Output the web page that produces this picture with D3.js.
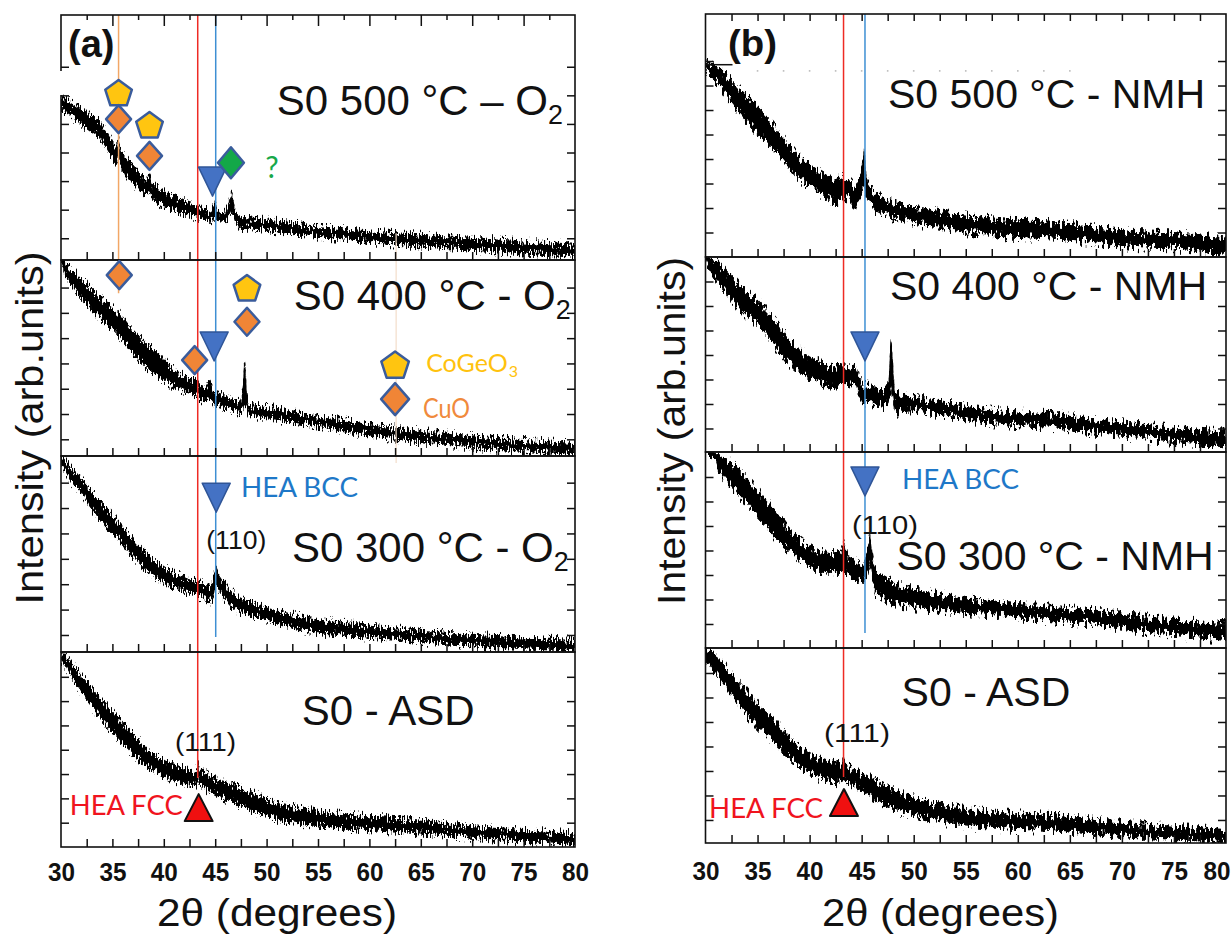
<!DOCTYPE html>
<html><head><meta charset="utf-8">
<script src="https://cdn.jsdelivr.net/npm/d3@7"></script>
<style>body{margin:0;background:#fff} svg{display:block}</style>
</head><body>
<svg id="chart" width="1231" height="934"></svg>
<script>
// ---------------- DATA (2θ in degrees, [x, lower, upper] of the noisy intensity band, arb. units) ----------------
const xTickValues = [30, 35, 40, 45, 50, 55, 60, 65, 70, 75, 80];
const xTickLabels = ["30","35","40","45","50","55","60","65","70","75","80"];
const xMinorValues = [30,32.5,35,37.5,40,42.5,45,47.5,50,52.5,55,57.5,60,62.5,65,67.5,70,72.5,75,77.5,80];

const a_500_O2 = [[30.0,5.49,5.97],[30.8,5.30,5.80],[31.75,5.03,5.59],[32.7,4.80,5.38],[33.7,4.54,5.14],[34.5,4.10,4.70],
 [35.3,3.56,4.19],[35.5,3.70,4.40],[35.6,3.90,4.54],[35.75,3.60,4.20],[35.9,3.46,4.02],[36.3,3.15,3.84],[37.0,2.90,3.55],
 [37.6,2.69,3.28],[38.3,2.51,3.04],[38.6,2.60,3.21],[38.9,2.37,2.86],[39.4,2.23,2.76],[40.4,2.05,2.58],[41.4,1.88,2.41],
 [42.4,1.80,2.28],[43.4,1.71,2.16],[44.5,1.57,1.92],[44.85,1.65,2.20],[45.0,1.71,2.37],[45.2,1.60,2.00],[45.5,1.52,1.88],
 [45.8,1.50,1.85],[46.2,1.65,2.10],[46.6,1.92,2.69],[46.9,1.60,2.05],[47.2,1.42,1.80],[47.5,1.36,1.74],[49.1,1.29,1.71],
 [52.0,1.17,1.55],[55.0,1.05,1.39],[58.5,0.92,1.28],[62.6,0.77,1.18],[66.5,0.68,1.09],[70.4,0.59,1.01],[75.0,0.47,0.89],[80.0,0.35,0.77]];

const a_400_O2 = [[30.0,8.01,8.48],[30.5,7.41,7.97],[31.8,6.64,7.43],[32.7,6.25,7.05],[33.7,5.85,6.64],[34.7,5.45,6.30],
 [35.7,5.06,5.99],[36.6,4.60,5.50],[37.6,4.13,5.06],[38.5,3.75,4.70],[39.5,3.47,4.41],[40.5,3.18,3.95],[41.5,2.95,3.62],
 [42.5,2.80,3.38],[42.8,2.79,3.34],[43.0,2.68,3.47],[43.3,2.63,3.23],[44.0,2.47,3.03],[44.5,2.55,3.34],[44.8,2.40,2.95],
 [45.1,2.36,2.83],[46.3,2.16,2.68],[47.45,2.04,2.49],[47.65,2.15,2.90],[47.8,2.40,4.07],[47.95,2.35,3.80],[48.1,2.10,2.70],
 [48.3,1.96,2.36],[49.5,1.86,2.30],[51.1,1.76,2.24],[55.0,1.50,1.89],[58.8,1.23,1.67],[62.7,0.97,1.45],[66.5,0.82,1.27],
 [70.4,0.66,1.10],[75.0,0.50,0.97],[80.0,0.38,0.85]];

const a_300_O2 = [[30.0,7.70,8.10],[31.0,7.00,7.60],[31.8,6.71,7.23],[32.7,6.10,6.80],[33.7,5.53,6.31],[34.7,5.10,5.85],
 [35.7,4.74,5.41],[36.6,4.25,4.95],[37.6,3.82,4.48],[38.5,3.45,4.12],[39.5,3.16,3.82],[40.5,2.95,3.55],[41.5,2.77,3.36],
 [42.5,2.62,3.20],[43.4,2.51,3.10],[44.5,2.31,2.90],[44.8,2.45,3.20],[45.05,2.97,3.82],[45.3,2.75,3.40],[45.7,2.51,3.16],
 [46.5,2.15,2.75],[47.3,1.92,2.51],[49.2,1.66,2.18],[52.0,1.33,1.85],[55.0,1.07,1.59],[58.8,0.93,1.42],[62.7,0.80,1.26],
 [66.5,0.66,1.12],[70.4,0.54,1.00],[75.0,0.44,0.90],[80.0,0.34,0.80]];

const a_ASD = [[30.0,7.65,8.05],[30.2,7.57,7.98],[31.0,7.00,7.60],[31.8,6.46,7.16],[32.7,5.90,6.70],[33.7,5.36,6.19],
 [34.7,4.85,5.70],[35.7,4.40,5.23],[36.6,3.98,4.80],[37.6,3.58,4.40],[38.5,3.25,4.00],[39.5,3.03,3.72],[40.5,2.80,3.48],
 [41.5,2.62,3.30],[42.3,2.55,3.18],[43.0,2.48,3.10],[43.25,2.60,3.30],[43.35,2.76,3.51],[43.5,2.65,3.20],[44.1,2.35,3.03],
 [45.3,2.07,2.76],[47.3,1.73,2.48],[49.2,1.40,2.12],[51.1,1.11,1.81],[55.0,0.84,1.45],[58.8,0.72,1.30],[62.7,0.63,1.18],
 [66.5,0.50,1.02],[70.4,0.36,0.84],[75.0,0.22,0.70],[80.0,0.08,0.56]];

const b_500_NMH = [[30.0,7.56,8.04],[31.2,7.09,7.77],[32.1,6.55,7.40],[33.1,6.00,6.95],[34.0,5.55,6.55],[35.0,5.05,6.13],
 [36.0,4.65,5.65],[36.9,4.23,5.18],[37.8,3.75,4.70],[38.7,3.28,4.23],[39.6,3.00,3.85],[40.6,2.73,3.55],[41.5,2.45,3.35],
 [42.5,2.19,3.14],[43.26,2.33,3.28],[43.8,2.46,3.14],[44.4,1.85,2.87],[44.9,2.46,3.43],[45.25,2.87,4.44],[45.5,2.40,3.30],
 [45.8,2.19,2.87],[46.3,1.92,2.60],[47.2,1.72,2.38],[48.2,1.58,2.19],[50.0,1.40,2.05],[51.9,1.24,1.92],[53.8,1.10,1.78],
 [55.7,0.97,1.64],[57.5,0.90,1.58],[59.4,0.83,1.51],[61.3,0.80,1.48],[63.2,0.76,1.44],[65.1,0.70,1.35],[67.0,0.62,1.24],
 [68.9,0.52,1.13],[70.8,0.42,1.03],[72.7,0.38,1.00],[74.5,0.36,0.97],[75.0,0.36,1.02],[75.3,0.38,1.10],[75.6,0.34,0.95],
 [77.5,0.22,0.88],[80.0,0.08,0.76]];

const b_400_NMH = [[30.0,7.80,8.08],[30.2,7.60,8.01],[31.2,6.93,7.74],[32.1,6.45,7.35],[33.1,5.97,6.93],[34.0,5.60,6.55],
 [35.0,5.29,6.24],[36.0,4.75,5.80],[36.9,4.20,5.29],[37.8,3.75,4.80],[38.7,3.39,4.34],[39.6,3.15,4.05],[40.6,2.98,3.80],
 [41.5,2.80,3.62],[42.5,2.71,3.52],[42.9,2.71,3.73],[43.5,2.77,3.47],[44.0,2.75,3.45],[44.4,2.84,3.66],[44.8,2.30,3.10],
 [45.1,2.03,2.84],[46.3,2.03,2.71],[47.3,1.89,2.57],[47.6,2.10,3.10],[47.8,2.57,4.75],[48.0,2.20,3.80],[48.2,1.62,2.44],
 [49.0,1.70,2.35],[50.1,1.75,2.30],[51.9,1.62,2.16],[54.7,1.40,1.95],[57.6,1.21,1.75],[60.4,1.12,1.68],[63.2,1.07,1.62],
 [67.0,0.85,1.40],[70.8,0.66,1.21],[75.0,0.45,1.03],[80.0,0.26,0.87]];

const b_300_NMH = [[30.0,8.02,8.51],[30.9,7.69,7.98],[31.2,7.29,7.97],[32.1,6.80,7.70],[33.1,6.33,7.42],[34.0,5.85,6.95],
 [35.0,5.38,6.47],[36.0,4.90,6.00],[36.9,4.43,5.52],[37.8,4.05,5.00],[38.7,3.75,4.56],[39.6,3.45,4.25],[40.6,3.20,4.02],
 [41.5,3.10,3.92],[42.5,3.07,3.89],[43.0,3.10,4.00],[43.3,3.20,4.43],[43.7,3.00,3.78],[44.4,2.80,3.61],[45.2,2.71,3.37],
 [45.55,3.00,4.10],[45.8,3.41,4.70],[46.05,2.80,3.80],[46.3,2.25,3.20],[47.2,2.00,2.90],[48.2,1.84,2.66],[50.0,1.68,2.42],
 [51.9,1.57,2.25],[55.7,1.42,2.02],[59.4,1.30,1.84],[63.2,1.15,1.70],[67.0,1.03,1.57],[70.8,0.80,1.38],[75.0,0.55,1.18],[80.0,0.35,1.03]];

const b_ASD = [[30.0,7.53,8.01],[31.2,6.85,7.66],[32.1,6.30,7.20],[33.1,5.76,6.71],[34.0,5.25,6.25],[35.0,4.81,5.76],
 [36.0,4.40,5.35],[36.9,3.99,4.95],[37.8,3.62,4.52],[38.7,3.31,4.13],[39.6,3.00,3.85],[40.6,2.77,3.58],[41.5,2.60,3.42],
 [42.5,2.50,3.31],[43.1,2.55,3.35],[43.3,2.71,3.58],[43.5,2.60,3.25],[44.4,2.36,3.04],[45.3,2.08,2.85],[46.3,1.82,2.63],
 [47.2,1.60,2.42],[48.2,1.41,2.22],[50.0,1.18,1.92],[51.9,1.00,1.68],[53.8,0.85,1.52],[55.7,0.73,1.41],[59.4,0.64,1.28],
 [63.2,0.59,1.20],[67.0,0.45,1.02],[70.8,0.32,0.86],[75.0,0.18,0.72],[80.0,0.06,0.59]];

// subplot titles: [main text, subscript]
const titlesA = [["S0 500 °C – O","2"],["S0 400 °C - O","2"],["S0 300 °C - O","2"],["S0 - ASD",""]];
const titlesB = [["S0 500 °C - NMH",""],["S0 400 °C - NMH",""],["S0 300 °C - NMH",""],["S0 - ASD",""]];
// title anchor (2θ, intensity of baseline)
const titlePosA = [[50.99,5.31],[52.65,6.11],[52.46,3.89],[53.42,5.02]];
const titlePosB = [[47.53,6.08],[47.72,6.24],[48.35,3.20],[48.84,5.65]];

// phase markers: [panel, subplot, shape, 2θ, intensity]
const markers = [
 ["a",0,"pent",35.6,6.08],["a",0,"dia",35.6,5.17],["a",0,"pent",38.61,4.96],["a",0,"dia",38.61,3.88],
 ["a",0,"triDown",44.74,3.00],["a",0,"green",46.53,3.64],
 ["a",1,"dia",35.67,7.49],["a",1,"pent",48.09,6.98],["a",1,"dia",48.09,5.65],["a",1,"dia",43.0,4.13],
 ["a",1,"triDown",44.9,4.69],["a",1,"pentL",62.5,3.94],["a",1,"diaL",62.5,2.59],
 ["a",2,"triDown",45.1,6.43],["a",3,"triUp",43.39,1.60],
 ["b",1,"triDown",45.32,4.37],["b",2,"triDown",45.32,6.84],["b",3,"triUp",43.3,1.69]
];
// reference lines: [panel, 2θ, colour key, startSub, startV(null=top), endSub, endV]
const refLines = [
 ["a",35.6,"orange",0,null,1,6.78],["a",43.3,"red",0,null,3,2.84],["a",45.05,"blue",0,null,2,0.92],
 ["a",62.6,"tan",0,1.18,2,7.77],
 ["b",43.26,"red",0,null,3,2.75],["b",45.32,"blue",0,null,2,0.63]
];
// annotations: [panel, subplot, text, 2θ, intensity(center), anchor, colour key, font key, size, length]
const notes = [
 ["a",0,"?",50.53,3.53,"middle","green","cal",30,0],
 ["a",2,"HEA BCC",47.52,6.84,"start","blueText","cal",26,117],
 ["a",2,"(110)",47.05,4.74,"middle","black","arial",26,60],
 ["a",3,"(111)",44.06,4.33,"middle","black","arial",26,61],
 ["a",3,"HEA FCC",41.84,1.73,"end","redText","cal",26,113],
 ["b",2,"HEA BCC",48.88,6.92,"start","blueText","cal",26,117],
 ["b",2,"(110)",47.24,5.04,"middle","black","arial",26,66],
 ["b",3,"(111)",44.55,4.55,"middle","black","arial",26,66],
 ["b",3,"HEA FCC",41.29,1.49,"end","redText","cal",26,114],
 ["a",1,"CuO",65.22,2.24,"start","orangeText","cal",27,47]
];

// ---------------- LAYOUT ----------------
const C = {orange:"#F2A766", red:"#EE2B24", blue:"#3E8FD3", tan:"#F3DDCA", green:"#18A84A", blueText:"#1E78C8",
  redText:"#F0141E", orangeText:"#F08A3C", black:"#111", pentFill:"#FFC510", diaFill:"#F08536", mStroke:"#3A5C9C",
  triFill:"#4472C4"};
const F = {arial:"'Liberation Sans', Arial, Helvetica, sans-serif", cal:"Lato, 'Open Sans', sans-serif"};

const panels = {
 a: {left:61, right:575, subs:[[15,260],[260,456],[456,652],[652,847]],
     dom:[[0.24,8.81],[0.34,8.09],[0.33,8.05],[0,8.02]], ticks:[7,7,7,7],
     data:[a_500_O2,a_400_O2,a_300_O2,a_ASD], titles:titlesA, tpos:titlePosA, fs:42,
     labelBase:881, xlab:[277,926,240], ylab:[43,428,353], rough:"roughA"},
 b: {left:705.5, right:1226, subs:[[14,257],[257,452],[452,648],[648,843]],
     dom:[[0,9.92],[0.04,8.0],[0.02,8.02],[0.06,8.02]], ticks:[8,7,7,7],
     data:[b_500_NMH,b_400_NMH,b_300_NMH,b_ASD], titles:titlesB, tpos:titlePosB, fs:41,
     labelBase:880, xlab:[940.5,926,237], ylab:[685,431,348], rough:"roughB"}
};

const svg = d3.select("#chart");
const defs = svg.append("defs");
function addRough(id, fx, fy, scale, seed){
  const f = defs.append("filter").attr("id",id).attr("x","-2%").attr("y","-20%").attr("width","104%").attr("height","140%")
    .attr("color-interpolation-filters","sRGB");
  f.append("feTurbulence").attr("type","fractalNoise").attr("baseFrequency",fx+" "+fy).attr("numOctaves",3).attr("seed",seed).attr("result","n");
  f.append("feColorMatrix").attr("in","n").attr("type","matrix")
    .attr("values","0 0 0 0 0.5  0 2.2 0 0 -0.6  0 0 0 0 0  0 0 0 0 1").attr("result","m");
  f.append("feDisplacementMap").attr("in","SourceGraphic").attr("in2","m").attr("scale",scale)
    .attr("xChannelSelector","R").attr("yChannelSelector","G");
}
addRough("roughA", 0.8, 0.15, 10, 3);
addRough("roughB", 0.4, 0.12, 11, 7);

const shapes = {
  pent: d3.range(5).map(k=>{const a=(-90+72*k)*Math.PI/180; return [14*Math.cos(a),14*Math.sin(a)+1];}),
  dia: [[0,-14],[12.5,0],[0,14],[-12.5,0]],
  green: [[0,-15.5],[13,0],[0,15.5],[-13,0]],
  triDown: [[-14,-14],[14,-14],[0,15]],
  triUp: [[0,-14],[14,13],[-14,13]],
};
shapes.pentL = d3.range(5).map(k=>{const a=(-90+72*k)*Math.PI/180; return [14.5*Math.cos(a),14.5*Math.sin(a)+1];});
shapes.diaL = [[0,-16],[14,0],[0,16],[-14,0]];
const shapeStyle = {
  pent:[C.pentFill,C.mStroke,2.5], pentL:[C.pentFill,C.mStroke,2.5], dia:[C.diaFill,C.mStroke,2.5], diaL:[C.diaFill,C.mStroke,2.5],
  green:["#13A848",C.mStroke,2.5], triDown:[C.triFill,"#2F5597",1.5], triUp:["#F01010","#111",2]
};

Object.entries(panels).forEach(([key,P])=>{
  const x = d3.scaleLinear().domain([30,80]).range([P.left,P.right]);
  const ys = P.subs.map((s,i)=>d3.scaleLinear().domain(P.dom[i]).range([s[1],s[0]]));
  const gTrace = svg.append("g"), gLines = svg.append("g"), gAxes = svg.append("g"), gMarks = svg.append("g");

  P.subs.forEach((s,i)=>{
    const y = ys[i];
    const cid = "clip-"+key+i;
    defs.append("clipPath").attr("id",cid).append("rect")
      .attr("x",P.left).attr("y",s[0]).attr("width",P.right-P.left).attr("height",s[1]-s[0]);
    const area = d3.area().x(d=>x(d[0])).y0(d=>y(d[1])).y1(d=>y(d[2]));
    const gc = gTrace.append("g").attr("clip-path","url(#"+cid+")");
    gc.append("path").datum(P.data[i]).attr("d",area).attr("fill","#000").attr("filter","url(#"+P.rough+")");

    // border
    gAxes.append("rect").attr("x",P.left).attr("y",s[0]).attr("width",P.right-P.left).attr("height",s[1]-s[0])
      .attr("fill","none").attr("stroke","#111").attr("stroke-width",1.6);
    // y ticks (inward, both sides)
    const tv = d3.range(1,P.ticks[i]+1);
    gAxes.append("g").attr("transform","translate("+P.left+",0)")
      .call(d3.axisLeft(y).tickValues(tv).tickSize(-8).tickFormat(""))
      .call(g=>g.select(".domain").remove()).selectAll("line").attr("stroke","#111").attr("stroke-width",1.5);
    gAxes.append("g").attr("transform","translate("+P.right+",0)")
      .call(d3.axisRight(y).tickValues(tv).tickSize(-8).tickFormat(""))
      .call(g=>g.select(".domain").remove()).selectAll("line").attr("stroke","#111").attr("stroke-width",1.5);
    // x ticks at bottom (inward)
    gAxes.append("g").attr("transform","translate(0,"+s[1]+")")
      .call(d3.axisBottom(x).tickValues(xMinorValues.slice(1,-1)).tickSize(-8).tickFormat(""))
      .call(g=>g.select(".domain").remove()).selectAll("line").attr("stroke","#111").attr("stroke-width",1.5);

    // title
    const tp = P.tpos[i];
    const t = gMarks.append("text").attr("x",x(tp[0])).attr("y",y(tp[1]))
      .attr("font-family",F.arial).attr("font-size",P.fs).attr("fill","#111");
    t.append("tspan").text(P.titles[i][0]);
    if (P.titles[i][1]) t.append("tspan").attr("font-size",P.fs*0.64).attr("dy",9).text(P.titles[i][1]);
  });

  // top ticks of first subplot
  if (key==="a"){
    gAxes.append("g").attr("transform","translate(0,"+P.subs[0][0]+")")
      .call(d3.axisTop(x).tickValues(xTickValues.slice(1,-1)).tickSize(-11).tickFormat(""))
      .call(g=>g.select(".domain").remove()).selectAll("line").attr("stroke","#111").attr("stroke-width",1.5);
    gAxes.append("g").attr("transform","translate(0,"+P.subs[0][0]+")")
      .call(d3.axisTop(x).tickValues(xMinorValues.filter(v=>v%5!==0)).tickSize(-5).tickFormat(""))
      .call(g=>g.select(".domain").remove()).selectAll("line").attr("stroke","#111").attr("stroke-width",1.5);
  } else {
    gAxes.append("g").attr("transform","translate(0,"+P.subs[0][0]+")")
      .call(d3.axisTop(x).tickValues(xMinorValues.slice(1,-1)).tickSize(-7).tickFormat(""))
      .call(g=>g.select(".domain").remove()).selectAll("line").attr("stroke","#111").attr("stroke-width",1.5);
  }

  // tick labels
  const last = P.subs[3][1];
  const lab = gAxes.append("g").attr("transform","translate(0,"+last+")")
    .call(d3.axisBottom(x).tickValues(xTickValues).tickSize(0).tickFormat((d,i)=>xTickLabels[i]));
  lab.select(".domain").remove();
  lab.selectAll("text").attr("dy",null).attr("y",P.labelBase-last)
    .attr("font-family",F.arial).attr("font-weight","bold").attr("font-size",26).attr("fill","#111")
    .attr("textLength",27).attr("lengthAdjust","spacingAndGlyphs");
  if (key==="b"){
    // keep the last label inside the picture
    lab.selectAll(".tick").filter(d=>d===80).select("text").attr("text-anchor","end").attr("x",1230-x(80));
  }

  // axis titles
  svg.append("text").attr("x",P.xlab[0]).attr("y",P.xlab[1]).attr("text-anchor","middle")
    .attr("font-family",F.arial).attr("font-size",38).attr("fill","#111")
    .attr("textLength",P.xlab[2]).attr("lengthAdjust","spacingAndGlyphs").text("2θ (degrees)");
  svg.append("text").attr("transform","translate("+P.ylab[0]+","+P.ylab[1]+") rotate(-90)").attr("text-anchor","middle")
    .attr("font-family",F.arial).attr("font-size",39).attr("fill","#111")
    .attr("textLength",P.ylab[2]).attr("lengthAdjust","spacingAndGlyphs").text("Intensity (arb.units)");

  // reference lines
  refLines.filter(r=>r[0]===key).forEach(r=>{
    const y1 = r[4]===null ? P.subs[r[3]][0] : ys[r[3]](r[4]);
    const y2 = ys[r[5]](r[6]);
    gLines.append("line").attr("x1",x(r[1])).attr("x2",x(r[1])).attr("y1",y1).attr("y2",y2)
      .attr("stroke",C[r[2]]).attr("stroke-width",r[2]==="tan"?1.2:1.5);
  });

  // markers
  markers.filter(m=>m[0]===key).forEach(m=>{
    const st = shapeStyle[m[2]];
    gMarks.append("path").attr("d","M"+shapes[m[2]].join("L")+"Z")
      .attr("transform","translate("+x(m[3])+","+ys[m[1]](m[4])+")")
      .attr("fill",st[0]).attr("stroke",st[1]).attr("stroke-width",st[2]).attr("stroke-linejoin","round");
  });

  // annotations
  notes.filter(n=>n[0]===key).forEach(n=>{
    const t = gMarks.append("text").attr("x",x(n[3])).attr("y",ys[n[1]](n[4])).attr("dominant-baseline","central")
      .attr("text-anchor",n[5]).attr("fill",C[n[6]]).attr("font-family",F[n[7]]).attr("font-size",n[8]).text(n[2]);
    if (n[9]) t.attr("textLength",n[9]).attr("lengthAdjust","spacingAndGlyphs");
  });

  if (key==="a"){
    // CoGeO3 legend label with subscript
    const t = gMarks.append("text").attr("x",x(65.52)).attr("y",ys[1](3.67)).attr("fill","#FFC20E")
      .attr("font-family",F.cal).attr("font-size",25);
    t.append("tspan").text("CoGeO");
    t.append("tspan").attr("font-size",16).attr("dx",1).attr("dy",5).text("3");
    // panel label
    gMarks.append("rect").attr("x",P.left-2).attr("y",71).attr("width",4).attr("height",24).attr("fill","#fff");
    gMarks.append("text").attr("x",68).attr("y",57).attr("font-family",F.arial).attr("font-weight","bold")
      .attr("font-size",38).attr("fill","#111").text("(a)");
  } else {
    gMarks.append("line").attr("x1",P.left).attr("x2",P.left+27).attr("y1",ys[0](7.85)).attr("y2",ys[0](7.85))
      .attr("stroke","#111").attr("stroke-width",1.5);
    gMarks.selectAll(".dot").data(xMinorValues.filter(v=>v>=35&&v<=65)).enter().append("rect")
      .attr("x",d=>x(d)-0.8).attr("y",ys[0](7.63)).attr("width",1.6).attr("height",1.6).attr("fill","#bbb");
    gMarks.append("text").attr("x",728).attr("y",56).attr("font-family",F.arial).attr("font-weight","bold")
      .attr("font-size",37).attr("fill","#111").attr("textLength",49).attr("lengthAdjust","spacingAndGlyphs").text("(b)");
  }
});
</script>
</body></html>
